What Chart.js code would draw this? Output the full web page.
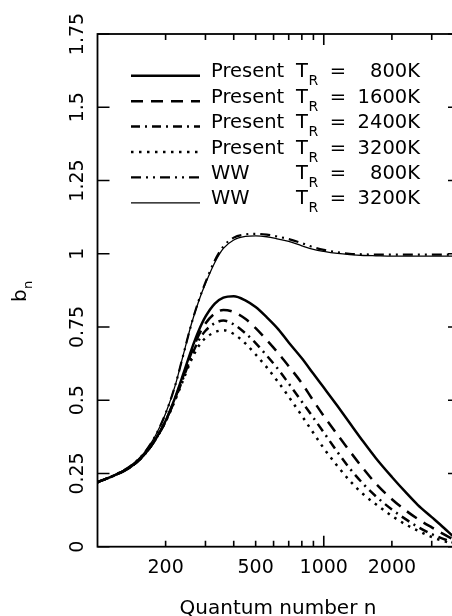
<!DOCTYPE html>
<html>
<head>
<meta charset="utf-8">
<script src="https://cdn.jsdelivr.net/npm/chart.js@4/dist/chart.umd.min.js"></script>
<style>
  html, body { margin: 0; padding: 0; background: #fff; overflow: hidden; }
  #wrap { width: 452px; height: 616px; overflow: hidden; }
</style>
</head>
<body>
<div id="wrap"><canvas id="bnChart" width="470" height="616"></canvas></div>
<script>
// Quantum number n (x values shared by all curves)
const nValues = [100, 120, 140, 160, 180, 200, 220, 240, 260, 280, 300, 330, 360, 400, 450, 500, 560, 630, 700, 800, 900, 1000, 1150, 1300, 1500, 1700, 2000, 2300, 2600, 3000, 3400, 3800, 4000];

// b_n
const present800 = [0.220, 0.245, 0.272, 0.312, 0.365, 0.430, 0.508, 0.592, 0.672, 0.737, 0.785, 0.830, 0.850, 0.855, 0.841, 0.818, 0.783, 0.742, 0.697, 0.643, 0.590, 0.543, 0.480, 0.423, 0.357, 0.302, 0.238, 0.186, 0.143, 0.101, 0.064, 0.030, 0.016];
const present1600 = [0.220, 0.245, 0.272, 0.312, 0.365, 0.429, 0.505, 0.585, 0.662, 0.722, 0.762, 0.796, 0.808, 0.801, 0.778, 0.746, 0.705, 0.660, 0.616, 0.558, 0.498, 0.446, 0.382, 0.327, 0.265, 0.215, 0.162, 0.124, 0.095, 0.066, 0.042, 0.022, 0.014];
const present2400 = [0.220, 0.245, 0.272, 0.312, 0.365, 0.428, 0.502, 0.578, 0.650, 0.704, 0.737, 0.763, 0.772, 0.759, 0.729, 0.695, 0.652, 0.605, 0.557, 0.495, 0.440, 0.390, 0.323, 0.268, 0.213, 0.172, 0.127, 0.094, 0.068, 0.043, 0.026, 0.012, 0.007];
const present3200 = [0.220, 0.245, 0.272, 0.312, 0.365, 0.427, 0.499, 0.572, 0.638, 0.685, 0.712, 0.732, 0.739, 0.726, 0.694, 0.656, 0.612, 0.561, 0.512, 0.447, 0.388, 0.336, 0.275, 0.226, 0.178, 0.145, 0.105, 0.076, 0.055, 0.033, 0.019, 0.008, 0.004];
const ww800 = [0.220, 0.246, 0.276, 0.318, 0.378, 0.455, 0.548, 0.658, 0.760, 0.840, 0.902, 0.977, 1.025, 1.055, 1.066, 1.068, 1.065, 1.058, 1.050, 1.036, 1.022, 1.013, 1.005, 1.000, 0.998, 0.997, 0.997, 0.997, 0.997, 0.997, 0.997, 0.997, 0.997];
const ww3200 = [0.220, 0.246, 0.276, 0.318, 0.378, 0.455, 0.548, 0.658, 0.760, 0.838, 0.898, 0.970, 1.018, 1.047, 1.059, 1.061, 1.058, 1.050, 1.042, 1.027, 1.015, 1.008, 1.001, 0.997, 0.994, 0.993, 0.992, 0.992, 0.992, 0.992, 0.992, 0.992, 0.992];

// axis ticks
const yTickValues = [0, 0.25, 0.5, 0.75, 1, 1.25, 1.5, 1.75];
const yTickLabels = ['0', '0.25', '0.5', '0.75', '1', '1.25', '1.5', '1.75'];
const xMinorTicks = [200, 300, 400, 500, 600, 700, 800, 900, 2000, 3000];
const xMajorTicks = [1000];
const xTickLabels = ['200', '500', '1000', '2000'];

// legend rows
const legendNames = ['Present', 'Present', 'Present', 'Present', 'WW', 'WW'];
const legendTemps = ['800K', '1600K', '2400K', '3200K', '800K', '3200K'];

const FONT = '"DejaVu Sans", sans-serif';

function pts(arr) {
    return nValues.map((n, i) => ({ x: n, y: arr[i] }));
}

// Draws the frame, inward ticks, tick labels, axis titles and the legend
const framePlugin = {
    id: 'framePlugin',
    afterDraw(chart) {
        const ctx = chart.ctx;
        const xs = chart.scales.x;
        const ys = chart.scales.y;
        const a = chart.chartArea;
        ctx.save();
        ctx.strokeStyle = '#000';
        ctx.fillStyle = '#000';

        // frame
        ctx.lineWidth = 1.8;
        ctx.strokeRect(a.left, a.top, a.right - a.left, a.bottom - a.top);

        // y ticks (both sides, inward)
        ctx.lineWidth = 1.6;
        yTickValues.forEach(v => {
            const py = ys.getPixelForValue(v);
            ctx.beginPath();
            ctx.moveTo(a.left, py); ctx.lineTo(a.left + 12, py);
            ctx.moveTo(a.right, py); ctx.lineTo(a.right - 12, py);
            ctx.stroke();
        });
        // x ticks (top and bottom, inward)
        const xTick = (v, len) => {
            const px = xs.getPixelForValue(v);
            ctx.beginPath();
            ctx.moveTo(px, a.bottom); ctx.lineTo(px, a.bottom - len);
            ctx.moveTo(px, a.top); ctx.lineTo(px, a.top + len);
            ctx.stroke();
        };
        xMinorTicks.forEach(v => xTick(v, 6));
        xMajorTicks.forEach(v => xTick(v, 11));

        // y tick labels, rotated
        ctx.font = '19px ' + FONT;
        ctx.textAlign = 'center';
        ctx.textBaseline = 'middle';
        yTickValues.forEach((v, i) => {
            const py = ys.getPixelForValue(v);
            ctx.save();
            ctx.translate(78, py);
            ctx.rotate(-Math.PI / 2);
            ctx.fillText(yTickLabels[i], 0, 0);
            ctx.restore();
        });

        // x tick labels
        ctx.textBaseline = 'alphabetic';
        xTickLabels.forEach(l => {
            ctx.fillText(l, xs.getPixelForValue(Number(l)), 573);
        });

        // x title
        ctx.font = '20px ' + FONT;
        ctx.fillText('Quantum number n', 278, 614);

        // y title b_n (rotated)
        ctx.save();
        ctx.translate(26, 296);
        ctx.rotate(-Math.PI / 2);
        ctx.textAlign = 'left';
        ctx.font = '20px ' + FONT;
        ctx.fillText('b', -6, 0);
        ctx.font = '13px ' + FONT;
        ctx.fillText('n', 7, 6);
        ctx.restore();

        // legend
        const ds = chart.data.datasets;
        for (let i = 0; i < ds.length; i++) {
            const base = 77.3 + i * 25.4;
            const ly = base - 1.5;
            ctx.save();
            ctx.lineWidth = ds[i].borderWidth;
            ctx.setLineDash(ds[i].borderDash || []);
            ctx.beginPath();
            ctx.moveTo(131, ly);
            ctx.lineTo(200, ly);
            ctx.stroke();
            ctx.restore();

            ctx.textAlign = 'left';
            ctx.font = '19.5px ' + FONT;
            ctx.fillText(legendNames[i], 211, base);
            ctx.fillText('T', 296, base);
            ctx.font = '14px ' + FONT;
            ctx.fillText('R', 308.5, base + 8);
            ctx.font = '19.5px ' + FONT;
            ctx.textAlign = 'center';
            ctx.fillText('=', 338, base);
            ctx.textAlign = 'right';
            ctx.fillText(legendTemps[i], 420, base);
        }
        ctx.restore();
    }
};

const ctx = document.getElementById('bnChart').getContext('2d');
const common = { pointRadius: 0, fill: false, borderColor: '#000', cubicInterpolationMode: 'monotone' };

new Chart(ctx, {
    type: 'line',
    data: {
        datasets: [
            { ...common, label: 'Present 800K', data: pts(present800), borderWidth: 2.5 },
            { ...common, label: 'Present 1600K', data: pts(present1600), borderWidth: 2.5, borderDash: [12, 8] },
            { ...common, label: 'Present 2400K', data: pts(present2400), borderWidth: 2.5, borderDash: [9, 5, 2, 5] },
            { ...common, label: 'Present 3200K', data: pts(present3200), borderWidth: 2.5, borderDash: [2.5, 5.5] },
            { ...common, label: 'WW 800K', data: pts(ww800), borderWidth: 2.2, borderDash: [10, 5, 2, 5, 2, 5] },
            { ...common, label: 'WW 3200K', data: pts(ww3200), borderWidth: 1.3 }
        ]
    },
    options: {
        responsive: false,
        animation: false,
        devicePixelRatio: 1,
        layout: { padding: { left: 97.5, top: 34, right: 10, bottom: 69.3 } },
        scales: {
            x: { type: 'logarithmic', min: 100, max: 4000, display: false },
            y: { type: 'linear', min: 0, max: 1.75, display: false }
        },
        plugins: {
            legend: { display: false },
            tooltip: { enabled: false }
        }
    },
    plugins: [framePlugin]
});
</script>
</body>
</html>
